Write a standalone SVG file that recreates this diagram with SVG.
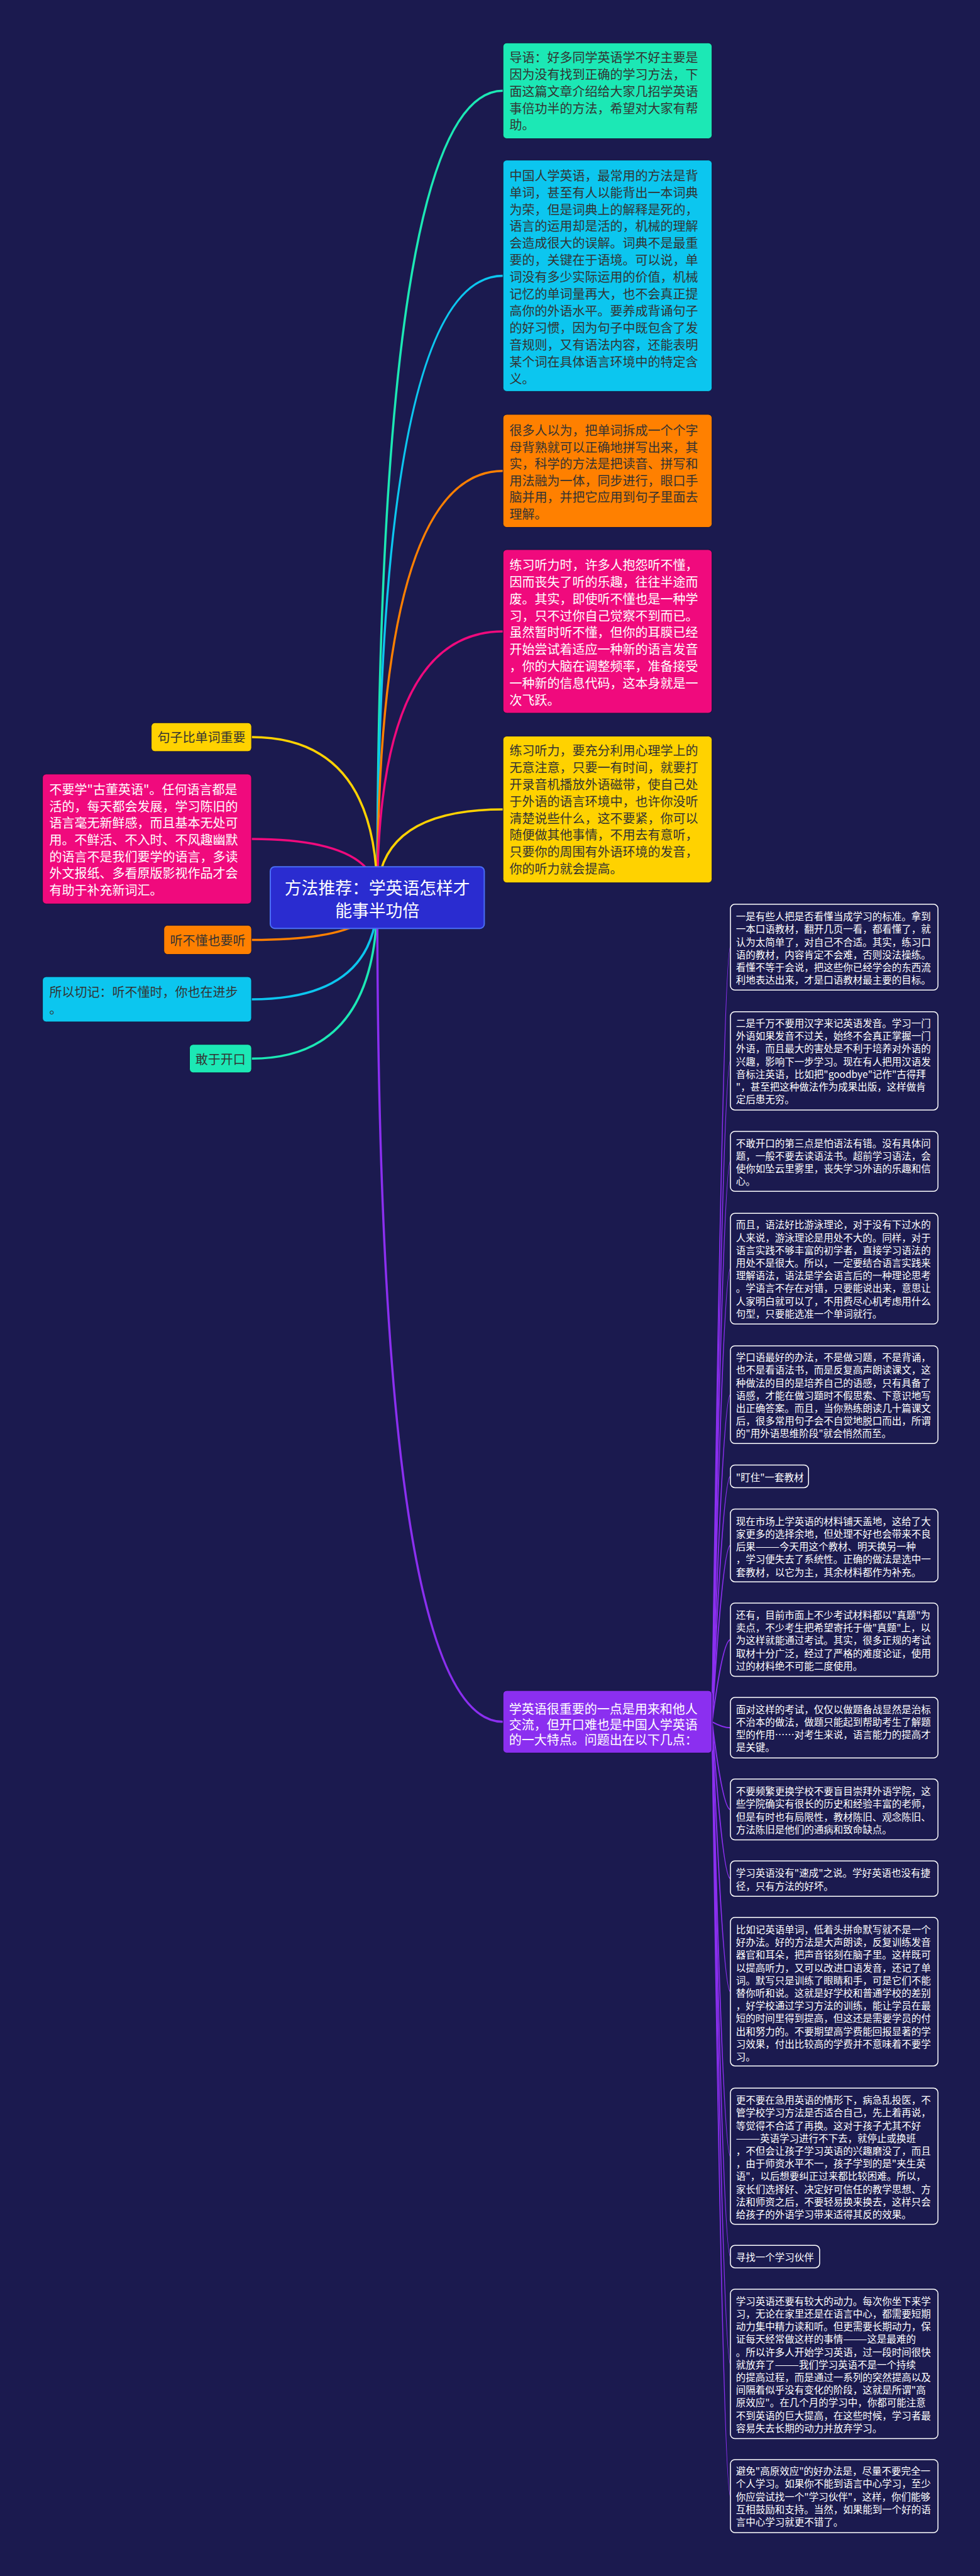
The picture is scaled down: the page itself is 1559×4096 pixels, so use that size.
<svg xmlns="http://www.w3.org/2000/svg" width="1559" height="4096" viewBox="0 0 1559 4096">
<style>
text { font-family: "Noto Sans CJK SC", "Noto Sans", sans-serif; dominant-baseline: central; }
.m { font-size: 20px; }
.s { font-size: 15.5px; fill: #ffffff; }
.dk { fill: #333333; }
.lt { fill: #ffffff; }
.box { stroke: #14143a; stroke-width: 1; }
.rn { fill: #1b1a4f; stroke: #ffffff; stroke-width: 1.5; }
.c { fill: none; stroke-linecap: round; stroke-width: 3.5; }
.cp { fill: none; stroke: #8b2ff0; stroke-linecap: round; stroke-width: 2; }
</style>
<rect x="0" y="0" width="1559" height="4096" fill="#1b1a4f"/>

<g id="connectors">
  <path class="c" stroke="#1ce8b5" d="M600.2 1427.2 Q600.2 144.3 800.2 144.3"/>
  <path class="c" stroke="#0cc6ef" d="M600.2 1427.2 Q600.2 438.5 800.2 438.5"/>
  <path class="c" stroke="#ff8000" d="M600.2 1427.2 Q600.2 748.8 800.2 748.8"/>
  <path class="c" stroke="#f00a7d" d="M600.2 1427.2 Q600.2 1004 800.2 1004"/>
  <path class="c" stroke="#ffd200" d="M600.2 1427.2 Q600.2 1287.1 800.2 1287.1"/>
  <path class="c" stroke="#ffd200" d="M600.2 1427.2 Q600.2 1172.1 400.1 1172.1"/>
  <path class="c" stroke="#f00a7d" d="M600.2 1427.2 Q600.2 1334.1 400.1 1334.1"/>
  <path class="c" stroke="#ff8000" d="M600.2 1427.2 Q600.2 1494.5 400.1 1494.5"/>
  <path class="c" stroke="#0cc6ef" d="M600.2 1427.2 Q600.2 1589 400.1 1589"/>
  <path class="c" stroke="#1ce8b5" d="M600.2 1427.2 Q600.2 1683.3 400.1 1683.3"/>
  <path class="c" stroke="#8b2ff0" d="M600.2 1427.2 Q600.2 2737.8 800.2 2737.8"/>
  <path class="cp" d="M1132.7 2737.8 Q1150 1506.1 1162 1506.1"/>
  <path class="cp" d="M1132.7 2737.8 Q1150 1686.8 1162 1686.8"/>
  <path class="cp" d="M1132.7 2737.8 Q1150 1846.6 1162 1846.6"/>
  <path class="cp" d="M1132.7 2737.8 Q1150 2017.3 1162 2017.3"/>
  <path class="cp" d="M1132.7 2737.8 Q1150 2217.7 1162 2217.7"/>
  <path class="cp" d="M1132.7 2737.8 Q1150 2347.4 1162 2347.4"/>
  <path class="cp" d="M1132.7 2737.8 Q1150 2457.3 1162 2457.3"/>
  <path class="cp" d="M1132.7 2737.8 Q1150 2607.3 1162 2607.3"/>
  <path class="cp" d="M1132.7 2737.8 Q1150 2747.2 1162 2747.2"/>
  <path class="cp" d="M1132.7 2737.8 Q1150 2877.2 1162 2877.2"/>
  <path class="cp" d="M1132.7 2737.8 Q1150 2987.1 1162 2987.1"/>
  <path class="cp" d="M1132.7 2737.8 Q1150 3166.8 1162 3166.8"/>
  <path class="cp" d="M1132.7 2737.8 Q1150 3428.5 1162 3428.5"/>
  <path class="cp" d="M1132.7 2737.8 Q1150 3588.1 1162 3588.1"/>
  <path class="cp" d="M1132.7 2737.8 Q1150 3758.7 1162 3758.7"/>
  <path class="cp" d="M1132.7 2737.8 Q1150 3969 1162 3969"/>
</g>

<g id="center">
  <rect x="430" y="1378.2" width="340.4" height="98" rx="7" fill="#2a2cd0" stroke="#4a6ef5" stroke-width="2"/>
  <text x="600.2" text-anchor="middle" style="font-size:26.8px" class="lt"><tspan x="600.2" y="1409.8">方法推荐：学英语怎样才</tspan><tspan x="600.2" y="1445.8">能事半功倍</tspan></text>
</g>

<g id="node-intro">
  <rect class="box" x="800.2" y="68.2" width="332.5" height="152.3" rx="6" fill="#1ce8b5"/>
  <text class="m dk"><tspan x="810.6" y="89.8">导语：好多同学英语学不好主要是</tspan><tspan x="810.6" y="116.7">因为没有找到正确的学习方法，下</tspan><tspan x="810.6" y="143.6">面这篇文章介绍给大家几招学英语</tspan><tspan x="810.6" y="170.5">事倍功半的方法，希望对大家有帮</tspan><tspan x="810.6" y="197.4">助。</tspan></text>
</g>

<g id="node-words">
  <rect class="box" x="800.2" y="254.6" width="332.5" height="367.8" rx="6" fill="#0cc6ef"/>
  <text class="m dk"><tspan x="810.6" y="277.7">中国人学英语，最常用的方法是背</tspan><tspan x="810.6" y="304.6">单词，甚至有人以能背出一本词典</tspan><tspan x="810.6" y="331.5">为荣，但是词典上的解释是死的，</tspan><tspan x="810.6" y="358.4">语言的运用却是活的，机械的理解</tspan><tspan x="810.6" y="385.3">会造成很大的误解。词典不是最重</tspan><tspan x="810.6" y="412.2">要的，关键在于语境。可以说，单</tspan><tspan x="810.6" y="439.1">词没有多少实际运用的价值，机械</tspan><tspan x="810.6" y="466">记忆的单词量再大，也不会真正提</tspan><tspan x="810.6" y="492.9">高你的外语水平。要养成背诵句子</tspan><tspan x="810.6" y="519.8">的好习惯，因为句子中既包含了发</tspan><tspan x="810.6" y="546.7">音规则，又有语法内容，还能表明</tspan><tspan x="810.6" y="573.6">某个词在具体语言环境中的特定含</tspan><tspan x="810.6" y="600.5">义。</tspan></text>
</g>

<g id="node-spelling">
  <rect class="box" x="800.2" y="658.9" width="332.5" height="179.7" rx="6" fill="#ff8000"/>
  <text class="m dk"><tspan x="810.6" y="682.9">很多人以为，把单词拆成一个个字</tspan><tspan x="810.6" y="709.5">母背熟就可以正确地拼写出来，其</tspan><tspan x="810.6" y="736.1">实，科学的方法是把读音、拼写和</tspan><tspan x="810.6" y="762.7">用法融为一体，同步进行，眼口手</tspan><tspan x="810.6" y="789.3">脑并用，并把它应用到句子里面去</tspan><tspan x="810.6" y="815.9">理解。</tspan></text>
</g>

<g id="node-listening1">
  <rect class="box" x="800.2" y="873.9" width="332.5" height="260.1" rx="6" fill="#f00a7d"/>
  <text class="m lt"><tspan x="810.6" y="897.2">练习听力时，许多人抱怨听不懂，</tspan><tspan x="810.6" y="924">因而丧失了听的乐趣，往往半途而</tspan><tspan x="810.6" y="950.8">废。其实，即使听不懂也是一种学</tspan><tspan x="810.6" y="977.6">习，只不过你自己觉察不到而已。</tspan><tspan x="810.6" y="1004.4">虽然暂时听不懂，但你的耳膜已经</tspan><tspan x="810.6" y="1031.2">开始尝试着适应一种新的语言发音</tspan><tspan x="810.6" y="1058">，你的大脑在调整频率，准备接受</tspan><tspan x="810.6" y="1084.8">一种新的信息代码，这本身就是一</tspan><tspan x="810.6" y="1111.6">次飞跃。</tspan></text>
</g>

<g id="node-listening2">
  <rect class="box" x="800.2" y="1170.5" width="332.5" height="233.2" rx="6" fill="#ffd200"/>
  <text class="m dk"><tspan x="810.6" y="1192.4">练习听力，要充分利用心理学上的</tspan><tspan x="810.6" y="1219.2">无意注意，只要一有时间，就要打</tspan><tspan x="810.6" y="1246">开录音机播放外语磁带，使自己处</tspan><tspan x="810.6" y="1272.8">于外语的语言环境中，也许你没听</tspan><tspan x="810.6" y="1299.6">清楚说些什么，这不要紧，你可以</tspan><tspan x="810.6" y="1326.4">随便做其他事情，不用去有意听，</tspan><tspan x="810.6" y="1353.2">只要你的周围有外语环境的发音，</tspan><tspan x="810.6" y="1380">你的听力就会提高。</tspan></text>
</g>

<g id="node-sentence">
  <rect class="box" x="240.6" y="1149.2" width="159.6" height="45.7" rx="6" fill="#ffd200"/>
  <text class="m dk" x="320.4" y="1171.9" text-anchor="middle">句子比单词重要</text>
</g>

<g id="node-antique">
  <rect class="box" x="67.6" y="1230.8" width="332.5" height="206.5" rx="6" fill="#f00a7d"/>
  <text class="m lt"><tspan x="78.6" y="1253.9">不要学"古董英语"。任何语言都是</tspan><tspan x="78.6" y="1280.6">活的，每天都会发展，学习陈旧的</tspan><tspan x="78.6" y="1307.3">语言毫无新鲜感，而且基本无处可</tspan><tspan x="78.6" y="1334">用。不鲜活、不入时、不风趣幽默</tspan><tspan x="78.6" y="1360.7">的语言不是我们要学的语言，多读</tspan><tspan x="78.6" y="1387.4">外文报纸、多看原版影视作品才会</tspan><tspan x="78.6" y="1414.1">有助于补充新词汇。</tspan></text>
</g>

<g id="node-keep-listening">
  <rect class="box" x="260.7" y="1471.3" width="139.5" height="46.3" rx="6" fill="#ff8000"/>
  <text class="m dk" x="330.4" y="1494.5" text-anchor="middle">听不懂也要听</text>
</g>

<g id="node-remember">
  <rect class="box" x="67.6" y="1553" width="332.5" height="71.9" rx="6" fill="#0cc6ef"/>
  <text class="m dk"><tspan x="78.6" y="1576.1">所以切记：听不懂时，你也在进步</tspan><tspan x="78.6" y="1602.9">。</tspan></text>
</g>

<g id="node-speak">
  <rect class="box" x="301.5" y="1660.7" width="98.7" height="45.1" rx="6" fill="#1ce8b5"/>
  <text class="m dk" x="350.8" y="1683.3" text-anchor="middle">敢于开口</text>
</g>

<g id="node-communicate">
  <rect class="box" x="800.2" y="2688.1" width="332.5" height="99.3" rx="6" fill="#8b2ff0"/>
  <text class="m lt"><tspan x="809.7" y="2716.1">学英语很重要的一点是用来和他人</tspan><tspan x="809.7" y="2740.5">交流，但开口难也是中国人学英语</tspan><tspan x="809.7" y="2764.9">的一大特点。问题出在以下几点：</tspan></text>
</g>

<g id="r1">
  <rect class="rn" x="1162" y="1437.8" width="330.1" height="136.5" rx="7"/>
  <text class="s"><tspan x="1170.8" y="1456.1">一是有些人把是否看懂当成学习的标准。拿到</tspan><tspan x="1170.8" y="1476.3">一本口语教材，翻开几页一看，都看懂了，就</tspan><tspan x="1170.8" y="1496.5">认为太简单了，对自己不合适。其实，练习口</tspan><tspan x="1170.8" y="1516.7">语的教材，内容肯定不会难，否则没法操练。</tspan><tspan x="1170.8" y="1536.9">看懂不等于会说，把这些你已经学会的东西流</tspan><tspan x="1170.8" y="1557.1">利地表达出来，才是口语教材最主要的目标。</tspan></text>
</g>

<g id="r2">
  <rect class="rn" x="1162" y="1608.7" width="330.1" height="156.2" rx="7"/>
  <text class="s"><tspan x="1170.8" y="1626">二是千万不要用汉字来记英语发音。学习一门</tspan><tspan x="1170.8" y="1646.2">外语如果发音不过关，始终不会真正掌握一门</tspan><tspan x="1170.8" y="1666.4">外语，而且最大的害处是不利于培养对外语的</tspan><tspan x="1170.8" y="1686.6">兴趣，影响下一步学习。现在有人把用汉语发</tspan><tspan x="1170.8" y="1706.8">音标注英语，比如把"goodbye"记作"古得拜</tspan><tspan x="1170.8" y="1727">"，甚至把这种做法作为成果出版，这样做肯</tspan><tspan x="1170.8" y="1747.2">定后患无穷。</tspan></text>
</g>

<g id="r3">
  <rect class="rn" x="1162" y="1799" width="330.1" height="95.3" rx="7"/>
  <text class="s"><tspan x="1170.8" y="1816.6">不敢开口的第三点是怕语法有错。没有具体问</tspan><tspan x="1170.8" y="1836.8">题，一般不要去读语法书。超前学习语法，会</tspan><tspan x="1170.8" y="1857">使你如坠云里雾里，丧失学习外语的乐趣和信</tspan><tspan x="1170.8" y="1877.2">心。</tspan></text>
</g>

<g id="r4">
  <rect class="rn" x="1162" y="1929.3" width="330.1" height="176" rx="7"/>
  <text class="s"><tspan x="1170.8" y="1946.4">而且，语法好比游泳理论，对于没有下过水的</tspan><tspan x="1170.8" y="1966.6">人来说，游泳理论是用处不大的。同样，对于</tspan><tspan x="1170.8" y="1986.8">语言实践不够丰富的初学者，直接学习语法的</tspan><tspan x="1170.8" y="2007">用处不是很大。所以，一定要结合语言实践来</tspan><tspan x="1170.8" y="2027.2">理解语法，语法是学会语言后的一种理论思考</tspan><tspan x="1170.8" y="2047.4">。学语言不存在对错，只要能说出来，意思让</tspan><tspan x="1170.8" y="2067.6">人家明白就可以了，不用费尽心机考虑用什么</tspan><tspan x="1170.8" y="2087.8">句型，只要能选准一个单词就行。</tspan></text>
</g>

<g id="r5">
  <rect class="rn" x="1162" y="2140" width="330.1" height="155.3" rx="7"/>
  <text class="s"><tspan x="1170.8" y="2157.1">学口语最好的办法，不是做习题，不是背诵，</tspan><tspan x="1170.8" y="2177.3">也不是看语法书，而是反复高声朗读课文，这</tspan><tspan x="1170.8" y="2197.5">种做法的目的是培养自己的语感，只有具备了</tspan><tspan x="1170.8" y="2217.7">语感，才能在做习题时不假思索、下意识地写</tspan><tspan x="1170.8" y="2237.9">出正确答案。而且，当你熟练朗读几十篇课文</tspan><tspan x="1170.8" y="2258.1">后，很多常用句子会不自觉地脱口而出，所谓</tspan><tspan x="1170.8" y="2278.3">的"用外语思维阶段"就会悄然而至。</tspan></text>
</g>

<g id="r6">
  <rect class="rn" x="1162" y="2329.4" width="124.2" height="36" rx="7"/>
  <text class="s" x="1170.8" y="2347.6">"盯住"一套教材</text>
</g>

<g id="r7">
  <rect class="rn" x="1162" y="2399.5" width="330.1" height="115.7" rx="7"/>
  <text class="s"><tspan x="1170.8" y="2417.7">现在市场上学英语的材料铺天盖地，这给了大</tspan><tspan x="1170.8" y="2437.9">家更多的选择余地，但处理不好也会带来不良</tspan><tspan x="1170.8" y="2458.1">后果———今天用这个教材、明天换另一种</tspan><tspan x="1170.8" y="2478.3">，学习便失去了系统性。正确的做法是选中一</tspan><tspan x="1170.8" y="2498.5">套教材，以它为主，其余材料都作为补充。</tspan></text>
</g>

<g id="r8">
  <rect class="rn" x="1162" y="2549" width="330.1" height="116.6" rx="7"/>
  <text class="s"><tspan x="1170.8" y="2566.9">还有，目前市面上不少考试材料都以"真题"为</tspan><tspan x="1170.8" y="2587.1">卖点，不少考生把希望寄托于做"真题"上，以</tspan><tspan x="1170.8" y="2607.3">为这样就能通过考试。其实，很多正规的考试</tspan><tspan x="1170.8" y="2627.5">取材十分广泛，经过了严格的难度论证，使用</tspan><tspan x="1170.8" y="2647.7">过的材料绝不可能二度使用。</tspan></text>
</g>

<g id="r9">
  <rect class="rn" x="1162" y="2699.1" width="330.1" height="96.2" rx="7"/>
  <text class="s"><tspan x="1170.8" y="2716.7">面对这样的考试，仅仅以做题备战显然是治标</tspan><tspan x="1170.8" y="2736.9">不治本的做法，做题只能起到帮助考生了解题</tspan><tspan x="1170.8" y="2757.1">型的作用……对考生来说，语言能力的提高才</tspan><tspan x="1170.8" y="2777.3">是关键。</tspan></text>
</g>

<g id="r10">
  <rect class="rn" x="1162" y="2828.8" width="330.1" height="96.8" rx="7"/>
  <text class="s"><tspan x="1170.8" y="2847.1">不要频繁更换学校不要盲目崇拜外语学院，这</tspan><tspan x="1170.8" y="2867.3">些学院确实有很长的历史和经验丰富的老师，</tspan><tspan x="1170.8" y="2887.5">但是有时也有局限性，教材陈旧、观念陈旧、</tspan><tspan x="1170.8" y="2907.7">方法陈旧是他们的通病和致命缺点。</tspan></text>
</g>

<g id="r11">
  <rect class="rn" x="1162" y="2959.1" width="330.1" height="56.1" rx="7"/>
  <text class="s"><tspan x="1170.8" y="2977.4">学习英语没有"速成"之说。学好英语也没有捷</tspan><tspan x="1170.8" y="2997.6">径，只有方法的好坏。</tspan></text>
</g>

<g id="r12">
  <rect class="rn" x="1162" y="3048.7" width="330.1" height="236.2" rx="7"/>
  <text class="s"><tspan x="1170.8" y="3066.9">比如记英语单词，低着头拼命默写就不是一个</tspan><tspan x="1170.8" y="3087.1">好办法。好的方法是大声朗读，反复训练发音</tspan><tspan x="1170.8" y="3107.3">器官和耳朵，把声音铭刻在脑子里。这样既可</tspan><tspan x="1170.8" y="3127.5">以提高听力，又可以改进口语发音，还记了单</tspan><tspan x="1170.8" y="3147.7">词。默写只是训练了眼睛和手，可是它们不能</tspan><tspan x="1170.8" y="3167.9">替你听和说。这就是好学校和普通学校的差别</tspan><tspan x="1170.8" y="3188.1">，好学校通过学习方法的训练，能让学员在最</tspan><tspan x="1170.8" y="3208.3">短的时间里得到提高，但这还是需要学员的付</tspan><tspan x="1170.8" y="3228.5">出和努力的。不要期望高学费能回报显著的学</tspan><tspan x="1170.8" y="3248.7">习效果，付出比较高的学费并不意味着不要学</tspan><tspan x="1170.8" y="3268.9">习。</tspan></text>
</g>

<g id="r13">
  <rect class="rn" x="1162" y="3320.3" width="330.1" height="216.5" rx="7"/>
  <text class="s"><tspan x="1170.8" y="3338.2">更不要在急用英语的情形下，病急乱投医，不</tspan><tspan x="1170.8" y="3358.4">管学校学习方法是否适合自己，先上着再说，</tspan><tspan x="1170.8" y="3378.6">等觉得不合适了再换。这对于孩子尤其不好</tspan><tspan x="1170.8" y="3398.8">———英语学习进行不下去，就停止或换班</tspan><tspan x="1170.8" y="3419">，不但会让孩子学习英语的兴趣磨没了，而且</tspan><tspan x="1170.8" y="3439.2">，由于师资水平不一，孩子学到的是"夹生英</tspan><tspan x="1170.8" y="3459.4">语"，以后想要纠正过来都比较困难。所以，</tspan><tspan x="1170.8" y="3479.6">家长们选择好、决定好可信任的教学思想、方</tspan><tspan x="1170.8" y="3499.8">法和师资之后，不要轻易换来换去，这样只会</tspan><tspan x="1170.8" y="3520">给孩子的外语学习带来适得其反的效果。</tspan></text>
</g>

<g id="r14">
  <rect class="rn" x="1162" y="3570.3" width="141.9" height="35.6" rx="7"/>
  <text class="s" x="1170.8" y="3588.2">寻找一个学习伙伴</text>
</g>

<g id="r15">
  <rect class="rn" x="1162" y="3640" width="330.1" height="237.5" rx="7"/>
  <text class="s"><tspan x="1170.8" y="3657.7">学习英语还要有较大的动力。每次你坐下来学</tspan><tspan x="1170.8" y="3677.9">习，无论在家里还是在语言中心，都需要短期</tspan><tspan x="1170.8" y="3698.1">动力集中精力读和听。但更需要长期动力，保</tspan><tspan x="1170.8" y="3718.3">证每天经常做这样的事情———这是最难的</tspan><tspan x="1170.8" y="3738.5">。所以许多人开始学习英语，过一段时间很快</tspan><tspan x="1170.8" y="3758.7">就放弃了———我们学习英语不是一个持续</tspan><tspan x="1170.8" y="3778.9">的提高过程，而是通过一系列的突然提高以及</tspan><tspan x="1170.8" y="3799.1">间隔着似乎没有变化的阶段，这就是所谓"高</tspan><tspan x="1170.8" y="3819.3">原效应"。在几个月的学习中，你都可能注意</tspan><tspan x="1170.8" y="3839.5">不到英语的巨大提高，在这些时候，学习者最</tspan><tspan x="1170.8" y="3859.7">容易失去长期的动力并放弃学习。</tspan></text>
</g>

<g id="r16">
  <rect class="rn" x="1162" y="3911" width="330.1" height="116.1" rx="7"/>
  <text class="s"><tspan x="1170.8" y="3928.1">避免"高原效应"的好办法是，尽量不要完全一</tspan><tspan x="1170.8" y="3948.3">个人学习。如果你不能到语言中心学习，至少</tspan><tspan x="1170.8" y="3968.5">你应尝试找一个"学习伙伴"，这样，你们能够</tspan><tspan x="1170.8" y="3988.7">互相鼓励和支持。当然，如果能到一个好的语</tspan><tspan x="1170.8" y="4008.9">言中心学习就更不错了。</tspan></text>
</g>
</svg>
